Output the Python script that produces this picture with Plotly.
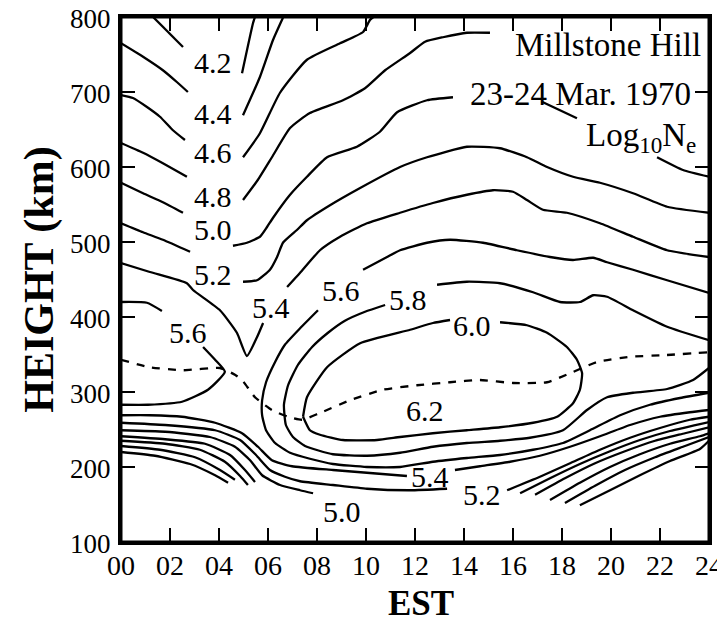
import plotly.graph_objects as go

# ---- Contours of Log10 Ne : hour (EST) and height (km); None = break at a label/text ----
c42_t = [1.31, 2.53, None, 4.94, 5.39, 5.47]
c42_h = [800, 760, None, 725, 792, 800]

c44_t = [0, 0.9, 1.71, 2.29, 2.73, None, 4.98, 5.67, 6.2, 6.61]
c44_h = [765, 747, 729, 713, 700, None, 669, 720, 769, 799]

c46_t = [0, 0.49, 1.06, 1.59, 2.12, 2.61, None, 4.98, 5.67, 6.49, 7.59, 8.94, 9.88, 10.16, 10.3]
c46_h = [696, 692, 680, 667, 649, 636, None, 613, 645, 699, 743, 765, 780, 796, 800]

c48_t = [0, 0.9, 1.71, 2.69, None, 4.98, 5.59, 6.16, 6.9, 7.71, 9.06, 9.96, 10.78, 11.8, 12.41, 13.14, 14.12, 15.06]
c48_h = [632, 619, 605, 587, None, 556, 583, 613, 652, 672, 689, 705, 729, 752, 767, 773, 779, 779]

c50_t = [0, 0.9, 1.71, 2.53, None, 4.57, 5.14, 5.67, 5.96, 6.2, 6.9, 7.59, 8.41, 9.63, 10.57, 11.27, 12.49, 13.55,
         None, 17.18, 18.61, None, 21.88, 22.94, 24]
c50_h = [579, 565, 553, 539, None, 495, 499, 507, 520, 532, 563, 587, 613, 627, 647, 673, 689, 693,
         None, 687, 665, None, 613, 596, 587]

c52_t = [0, 0.9, 1.71, 2.82, None, 4.98, 5.55, 6.08, 6.37, 6.61, 7.18, 7.59, 8.53, 9.76, 11.39, 12.49, 14.12,
         15.47, 16.57, 17.39, 18.45, 19.55, 20.9, 22.29, 24]
c52_h = [525, 513, 503, 487, None, 447, 449, 463, 480, 499, 516, 529, 549, 572, 600, 613, 627,
         625, 613, 600, 587, 579, 565, 547, 539]

c54_t = [0, 1.18, 2.69, 2.94, 4.04, 4.73, 5.14, 5.55, 5.8, None, 6.78, 7.31, 8.12, 8.94, 10.04, 11.39, 12.73,
         14.12, 15.18, 16.0, 16.57, 17.22, 18.2, 19.55, 20.9, 22.29, 24]
c54_h = [472, 460, 445, 436, 409, 379, 348, 373, 392, None, 440, 459, 489, 507, 525, 539, 552,
         563, 569, 567, 556, 543, 539, 525, 507, 489, 480]

c56_t = [24, 22.29, 20.9, 19.84, 19.27, 18.45, 17.51, 16.16, 14.78, 13.43, 12.49, 11.39, 10.86, 9.88, None,
         8.04, 7.31, 6.69, 6.29, 5.92, 5.76, 5.76, 5.92, 6.29, 6.9, 7.71, 8.65, 10.04, 11.39, 12.73, 14.12,
         15.47, 16.82, 18.04, 19.14, 20.37, 21.59, 22.82, 24]
c56_h = [432, 449, 463, 473, 479, 476, 480, 489, 499, 503, 499, 489, 480, 463, None,
         409, 385, 363, 340, 313, 289, 269, 249, 232, 219, 211, 204, 200, 200, 207, 212,
         216, 223, 232, 249, 269, 283, 292, 299]

c58_t = [24, 22.29, 20.9, 19.84, 19.27, 18.73, 17.92, 16.82, 15.47, 14.12, 12.9, None,
         10.78, 9.96, 9.14, 8.45, 7.8, 7.22, 6.82, 6.65, 6.73, 7.02, 7.51, 8.65, 10.04, 11.39, 12.73, 14.12,
         15.47, 16.69, 18.04, 19.02, 19.84, 20.9, 22.29, 23.35, 24]
c58_h = [369, 387, 409, 427, 429, 420, 420, 433, 445, 447, 443, None,
         416, 407, 395, 379, 360, 336, 309, 283, 256, 240, 228, 217, 215, 219, 227, 232,
         235, 239, 249, 276, 293, 299, 304, 316, 332]

c60_t = [7.43, 7.59, 8.41, 9.76, 11.8, 12.73, 13.43, None, 15.47, 16.57, 17.39, 18.2, 18.61, 18.82, 18.73,
         18.45, 17.8, 16.82, 15.47, 14.12, 12.73, 11.39, 10.45, 9.06, 8.12, 7.71, 7.43]
c60_h = [267, 293, 333, 365, 383, 392, 396, None, 393, 389, 379, 360, 343, 325, 303,
         285, 267, 259, 253, 249, 245, 240, 236, 236, 243, 249, 267]

c56n_t = [0, 1.06, 1.67, None, 3.35, 3.84, 4.24, 3.55, 2.49, 1.1, 0]
c56n_h = [420, 419, 408, None, 360, 343, 327, 303, 287, 283, 283]

c54b_t = [0, 1.18, 2.49, 3.84, 4.94, 5.59, 6.16, 6.98, 8.65, 10.16, 11.67, None,
          13.63, 14.65, 15.88, 17.1, 18.33, 19.55, 20.78, 22.0, 23.22, 24]
c54b_h = [269, 269, 267, 259, 245, 227, 209, 201, 196, 192, 188, None,
          196, 201, 207, 215, 227, 241, 256, 267, 273, 276]

c52b_t = [0, 1.8, 3.84, 4.86, 5.51, 6.08, 6.69, 7.31, 8.65, 10.04, 11.8, 13.31, None,
          15.76, 17.1, 18.33, 19.55, 20.78, 22.0, 23.22, 24]
c52b_h = [259, 256, 249, 236, 216, 196, 187, 181, 176, 171, 169, 171, None,
          169, 187, 205, 223, 239, 252, 263, 267]

c50b_t = [0, 1.8, 3.63, 4.65, 5.27, 5.76, 6.49, 7.31, 7.84, None, 16.29, 17.51, 18.73, 19.96, 21.18, 22.41, 24]
c50b_h = [249, 247, 240, 227, 209, 189, 176, 169, 165, None, 165, 185, 204, 221, 236, 248, 260]

c48b_t = [0, 1.8, 3.43, 4.45, 5.06, 5.47, None, 16.9, 18.12, 19.35, 20.57, 21.8, 23.02, 24]
c48b_h = [241, 237, 231, 216, 196, 180, None, 163, 185, 205, 221, 235, 245, 253]

c46b_t = [0, 1.8, 3.22, 4.24, 4.86, 5.18, None, 17.51, 18.73, 19.96, 21.18, 22.41, 23.63, 24]
c46b_h = [235, 231, 223, 207, 188, 176, None, 156, 179, 200, 217, 231, 241, 245]

c44b_t = [0, 1.59, 3.02, 4.04, 4.65, None, 18.12, 19.35, 20.57, 21.8, 23.02, 24]
c44b_h = [228, 223, 213, 196, 183, None, 152, 175, 196, 213, 228, 240]

c42b_t = [0, 1.39, 2.82, 3.84, 4.37, None, 18.73, 19.96, 21.18, 22.41, 23.63, 24]
c42b_h = [220, 215, 204, 189, 179, None, 149, 169, 189, 208, 224, 235]

# peak height (hmF2), dashed
peak_t = [0, 1.18, 2.53, 4.04, 4.65, 4.94, 5.47, 6.16, 6.82, 7.39, 8.12, 9.35, 10.69, 12.08, 13.43, 14.65,
          16.0, 17.39, 18.33, 19.43, 20.78, 22.12, 24]
peak_h = [343, 333, 329, 332, 323, 316, 293, 276, 267, 263, 272, 289, 303, 309, 313, 316,
          312, 313, 325, 340, 347, 349, 353]

# contour labels
label_text = ["4.2", "4.4", "4.6", "4.8", "5.0", "5.2", "5.4", "5.6", "5.6", "5.8", "6.0", "6.2", "5.4", "5.2", "5.0"]
label_t = [3.76, 3.76, 3.76, 3.76, 3.76, 3.76, 6.12, 2.73, 8.98, 11.71, 14.33, 12.41, 12.61, 14.73, 9.02]
label_h = [739, 671, 620, 561, 517, 457, 413, 380, 436, 423, 389, 276, 187, 163, 141]

# axes
x_ticks = list(range(0, 25, 2))
x_ticktext = ["%02d" % v for v in x_ticks]
y_ticks = list(range(100, 801, 100))

solid = [(c42_t, c42_h), (c44_t, c44_h), (c46_t, c46_h), (c48_t, c48_h), (c50_t, c50_h), (c52_t, c52_h),
         (c54_t, c54_h), (c56_t, c56_h), (c58_t, c58_h), (c60_t, c60_h), (c56n_t, c56n_h),
         (c54b_t, c54b_h), (c52b_t, c52b_h), (c50b_t, c50b_h), (c48b_t, c48b_h), (c46b_t, c46b_h),
         (c44b_t, c44b_h), (c42b_t, c42b_h)]

SERIF = "Liberation Serif"
fig = go.Figure()
for t, h in solid:
    fig.add_trace(go.Scatter(x=t, y=h, mode="lines", connectgaps=False,
                             line=dict(color="black", width=2.3, shape="spline", smoothing=0.5),
                             showlegend=False, hoverinfo="skip"))
fig.add_trace(go.Scatter(x=peak_t, y=peak_h, mode="lines",
                         line=dict(color="black", width=2.3, dash="8px,8px", shape="spline", smoothing=0.5),
                         showlegend=False, hoverinfo="skip"))

for txt, t, h in zip(label_text, label_t, label_h):
    fig.add_annotation(x=t, y=h, text=txt, showarrow=False,
                       font=dict(family=SERIF, size=30, color="black"))

# title block
fig.add_annotation(x=0.9898, y=0.9467, xref="paper", yref="paper", text="Millstone Hill", showarrow=False,
                   xanchor="right", yanchor="middle", font=dict(family=SERIF, size=33, color="black"))
fig.add_annotation(x=0.972, y=0.8533, xref="paper", yref="paper", text="23-24 Mar. 1970", showarrow=False,
                   xanchor="right", yanchor="middle", font=dict(family=SERIF, size=33, color="black"))
fig.add_annotation(x=0.982, y=0.77, xref="paper", yref="paper", text="Log<sub>10</sub>N<sub>e</sub>",
                   showarrow=False, xanchor="right", yanchor="middle",
                   font=dict(family=SERIF, size=33, color="black"))

# axis titles
fig.add_annotation(x=-0.139, y=0.5, xref="paper", yref="paper", text="<b>HEIGHT (km)</b>", showarrow=False,
                   textangle=-90, xanchor="center", yanchor="middle",
                   font=dict(family=SERIF, size=42, color="black"))
fig.add_annotation(x=0.51, y=-0.117, xref="paper", yref="paper", text="<b>EST</b>", showarrow=False,
                   xanchor="center", yanchor="middle", font=dict(family=SERIF, size=35, color="black"))

# frame around the plotting area
fig.add_shape(type="rect", xref="paper", yref="paper", x0=0, x1=1, y0=0, y1=1,
              line=dict(color="black", width=3), layer="above")

axis_common = dict(showgrid=False, zeroline=False, showline=True, linecolor="black", linewidth=3,
                   mirror="ticks", ticks="inside", ticklen=14, tickwidth=1.5, tickcolor="black",
                   automargin=False, ticklabeloverflow="allow")
fig.update_xaxes(range=[0, 24], tickvals=x_ticks, ticktext=x_ticktext, ticklabelstandoff=-4,
                 tickfont=dict(family=SERIF, size=28, color="black"), **axis_common)
fig.update_yaxes(range=[100, 800], tickvals=y_ticks, ticklabelstandoff=2, ticklabelshift=2,
                 tickfont=dict(family=SERIF, size=27, color="black"), **axis_common)

# the page body adds an 8 px margin; the figure is sized so the page does not scroll
fig.update_layout(width=715, height=617, margin=dict(l=113, r=14, t=9, b=83),
                  paper_bgcolor="white", plot_bgcolor="white", showlegend=False)

fig.write_html("out.html")
